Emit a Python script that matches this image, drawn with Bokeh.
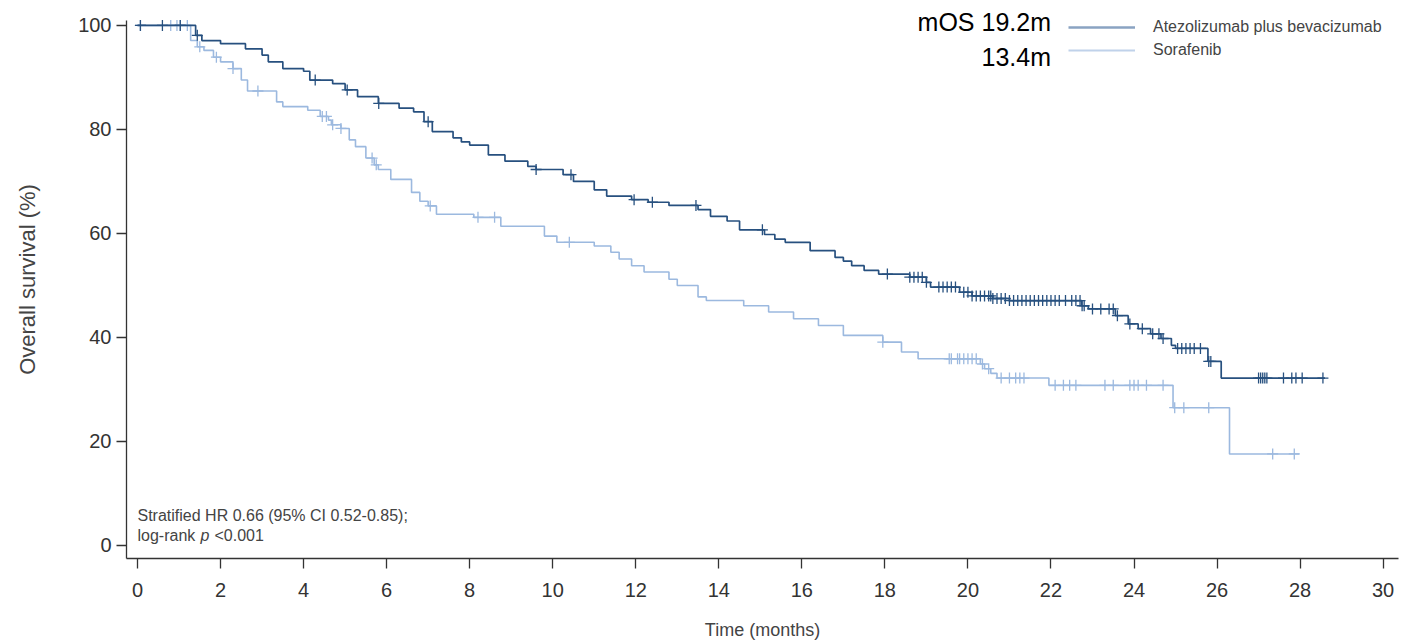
import numpy as np
from bokeh.plotting import figure
from bokeh.models import Range1d, FixedTicker, Legend, LegendItem, Label
from bokeh.embed import file_html
from bokeh.resources import INLINE

# ---------------- data ----------------
ab_label = "Atezolizumab plus bevacizumab"
ab_time = [0, 1.4, 1.55, 2.0, 2.6, 3.0, 3.15, 3.5, 4.0, 4.15, 4.7, 5.0, 5.3, 5.8, 6.3,
           6.65, 6.9, 7.1, 7.6, 7.8, 8.0, 8.45, 8.85, 9.4, 9.6, 10.25, 10.5, 11.0, 11.3,
           11.9, 12.3, 12.8, 13.5, 13.8, 14.2, 14.5, 15.1, 15.35, 15.6, 16.2, 16.8, 17.0,
           17.2, 17.5, 17.85, 18.6, 19.0, 19.1, 19.8, 20.1, 20.6, 21.0, 22.74, 22.9, 23.55,
           23.86, 24.1, 24.4, 24.65, 24.9, 25.0, 25.78, 26.1]
ab_surv = [100, 98.1, 97.1, 96.5, 95.5, 94.3, 93.0, 91.7, 91.2, 89.5, 88.8, 87.6, 86.3, 85.0,
           84.1, 83.4, 81.5, 79.6, 78.4, 77.6, 77.0, 75.1, 73.9, 72.9, 72.3, 71.3, 70.0, 68.4,
           67.2, 66.5, 66.0, 65.4, 64.6, 63.3, 62.4, 60.7, 59.8, 58.9, 58.3, 56.7, 55.4, 54.7,
           53.8, 52.9, 52.2, 51.6, 50.6, 49.7, 48.7, 48.0, 47.5, 47.1, 46.1, 45.5, 44.2, 42.6,
           41.7, 40.7, 39.8, 38.5, 37.9, 35.4, 32.2]
ab_end = 28.6
ab_cens = [0.07, 0.6, 1.03, 1.44, 4.28, 5.05, 5.81, 7.0, 9.6, 10.44, 11.96, 12.4, 13.45, 15.05,
           18.06, 18.6, 18.7, 18.8, 18.9, 19.0, 19.3, 19.4, 19.5, 19.6, 19.7, 19.9, 20.0, 20.1,
           20.2, 20.3, 20.4, 20.5, 20.55, 20.6, 20.7, 20.8, 20.9, 21.0, 21.1, 21.2, 21.3, 21.4,
           21.5, 21.6, 21.7, 21.8, 21.9, 22.0, 22.1, 22.2, 22.35, 22.5, 22.6, 22.7, 22.75, 22.8,
           23.0, 23.2, 23.4, 23.5, 23.6, 23.9, 24.2, 24.45, 24.6, 24.7, 25.05, 25.15, 25.25,
           25.35, 25.45, 25.6, 25.8, 25.85, 27.0, 27.05, 27.1, 27.15, 27.2, 27.6, 27.8, 27.9,
           28.05, 28.55]

sor_label = "Sorafenib"
sor_time = [0, 1.28, 1.44, 1.6, 1.83, 2.0, 2.3, 2.5, 2.65, 3.35, 3.5, 4.1, 4.4, 4.6, 4.67,
            4.9, 5.1, 5.25, 5.5, 5.7, 5.8, 6.1, 6.6, 6.8, 7.0, 7.2, 8.1, 8.75, 9.8, 10.1,
            11.0, 11.4, 11.6, 11.9, 12.2, 12.8, 13.0, 13.5, 13.7, 14.6, 15.2, 15.8, 16.4,
            17.0, 17.95, 18.4, 18.8, 20.3, 20.4, 20.55, 20.7, 21.95, 24.94, 26.3]
sor_surv = [100, 97.1, 95.9, 95.2, 93.9, 93.0, 91.7, 89.5, 87.4, 85.3, 84.4, 83.7, 82.5,
            81.8, 80.9, 80.2, 78.0, 76.7, 74.5, 73.2, 72.3, 70.4, 67.9, 66.2, 65.3, 63.7,
            63.1, 61.4, 59.5, 58.3, 57.6, 56.4, 55.1, 53.8, 52.6, 51.2, 50.0, 47.8, 47.1,
            46.1, 44.9, 43.6, 42.3, 40.4, 39.1, 37.2, 35.9, 34.9, 34.0, 33.1, 32.2, 30.8,
            26.5, 17.6]
sor_end = 27.98
sor_cens = [0.07, 0.8, 0.95, 1.03, 1.2, 1.5, 1.9, 2.3, 2.9, 4.45, 4.55, 4.7, 4.9, 5.65,
            5.75, 7.05, 8.2, 8.6, 10.4, 17.95, 19.55, 19.6, 19.75, 19.8, 19.9, 20.0, 20.1,
            20.2, 20.35, 20.5, 20.8, 21.0, 21.15, 21.25, 21.35, 22.1, 22.3, 22.45, 22.6,
            23.3, 23.5, 23.9, 24.0, 24.1, 24.3, 24.7, 24.98, 25.2, 25.8, 27.34, 27.86]

x_ticks = list(range(0, 31, 2))
y_ticks = [0, 20, 40, 60, 80, 100]
median_texts = ["mOS 19.2m", "13.4m"]
stats_line1 = "Stratified HR 0.66 (95% CI 0.52-0.85);"
stats_line2 = ["log-rank", "p", "<0.001"]

# ---------------- styles ----------------
AB_COLOR = "#27507f"
SOR_COLOR = "#9cb9df"
FONT = "Liberation Sans"


def step_xy(times, surv, end):
    return list(times) + [end], list(surv) + [surv[-1]]


def surv_at(times, surv, ts):
    t = np.asarray(times)
    s = np.asarray(surv)
    idx = np.searchsorted(t, np.asarray(ts), side="right") - 1
    return s[idx]


p = figure(width=1401, height=642, output_backend="svg", toolbar_location=None,
           x_range=Range1d(-0.265, 30.37), y_range=Range1d(-2.5, 104.8),
           min_border_left=126, min_border_right=3, min_border_top=0, min_border_bottom=81)
p.outline_line_color = None
p.grid.visible = False
p.background_fill_color = "white"
p.border_fill_color = "white"

for ax in (p.xaxis[0], p.yaxis[0]):
    ax.axis_line_color = "#333333"
    ax.axis_line_width = 1.3
    ax.major_tick_line_color = "#333333"
    ax.major_tick_line_width = 1.3
    ax.major_tick_out = 10
    ax.major_tick_in = 0
    ax.minor_tick_line_color = None
    ax.major_label_text_font = FONT
    ax.major_label_text_font_size = "20px"
    ax.major_label_text_color = "#333333"
    ax.axis_label_text_font = FONT
    ax.axis_label_text_font_style = "normal"
    ax.axis_label_text_color = "#444444"

p.yaxis.bounds = (-2.5, 101)
p.xaxis.ticker = FixedTicker(ticks=x_ticks)
p.yaxis.ticker = FixedTicker(ticks=y_ticks)
p.xaxis.axis_label = "Time (months)"
p.yaxis.axis_label = "Overall survival (%)"
p.xaxis.axis_label_text_font_size = "18px"
p.yaxis.axis_label_text_font_size = "22px"
p.xaxis.major_label_standoff = 14
p.yaxis.major_label_standoff = 5
p.xaxis.axis_label_standoff = 20
p.yaxis.axis_label_standoff = 35

# curves
sx, sy = step_xy(sor_time, sor_surv, sor_end)
p.step(sx, sy, mode="after", line_color=SOR_COLOR, line_width=1.6)
p.scatter(sor_cens, surv_at(sor_time, sor_surv, sor_cens), marker="cross", size=11,
          line_color=SOR_COLOR, line_width=1.3)

ax_, ay_ = step_xy(ab_time, ab_surv, ab_end)
p.step(ax_, ay_, mode="after", line_color=AB_COLOR, line_width=1.7)
p.scatter(ab_cens, surv_at(ab_time, ab_surv, ab_cens), marker="cross", size=11,
          line_color=AB_COLOR, line_width=1.3)

# legend (proxy renderers with the lighter legend tones; nothing drawn in the plot)
leg_ab = p.line([np.nan], [np.nan], line_color="#8aa3c2", line_width=2.5)
leg_sor = p.line([np.nan], [np.nan], line_color="#c0d2ea", line_width=2.0)
legend = Legend(items=[LegendItem(label=ab_label, renderers=[leg_ab]),
                       LegendItem(label=sor_label, renderers=[leg_sor])],
                location=(942, 498), orientation="vertical",
                glyph_width=67, glyph_height=20, label_height=20, spacing=3,
                label_standoff=18, padding=0, margin=0,
                border_line_color=None, background_fill_alpha=0,
                label_text_font=FONT, label_text_font_size="16px",
                label_text_color="#444444")
p.add_layout(legend, "center")

# median OS annotations
p.add_layout(Label(x=22.0, y=100.6, text=median_texts[0], text_align="right",
                   text_baseline="middle", text_font=FONT, text_font_size="25px",
                   text_color="black"))
p.add_layout(Label(x=22.0, y=94.0, text=median_texts[1], text_align="right",
                   text_baseline="middle", text_font=FONT, text_font_size="25px",
                   text_color="black"))

# statistics annotation
stat_kw = dict(text_baseline="middle", text_font=FONT, text_font_size="16px",
               text_color="#444444")
p.add_layout(Label(x=0.0, y=5.8, text=stats_line1, **stat_kw))
p.add_layout(Label(x=0.0, y=1.9, text=stats_line2[0], **stat_kw))
p.add_layout(Label(x=0.0, y=1.9, x_offset=63, text=stats_line2[1],
                   text_font_style="italic", **stat_kw))
p.add_layout(Label(x=0.0, y=1.9, x_offset=77, text=stats_line2[2], **stat_kw))

open("out.html", "w").write(file_html(p, INLINE))
